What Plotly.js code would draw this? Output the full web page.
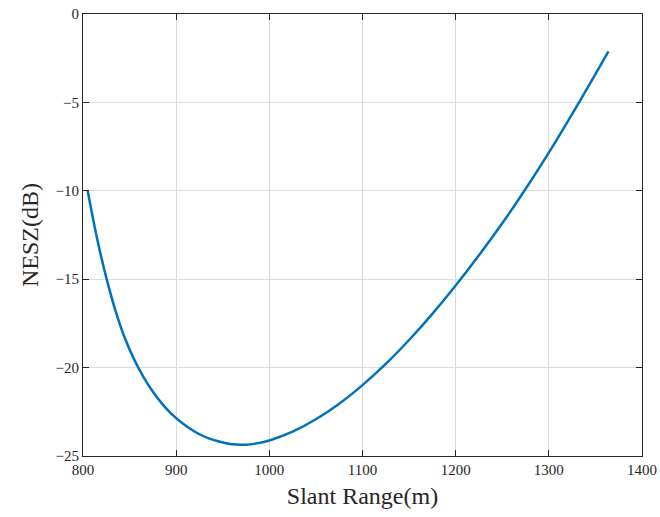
<!DOCTYPE html>
<html>
<head>
<meta charset="utf-8">
<script src="https://cdn.plot.ly/plotly-3.0.1.min.js"></script>
<style>html,body{margin:0;padding:0;background:#fff;}#chart{width:660px;height:517px;}</style>
</head>
<body>
<div id="chart"></div>
<script>
const slantRange = [805, 815, 825, 835, 845, 855, 865, 875, 885, 895, 905, 915, 925, 935, 945, 955, 965, 975, 985, 1000, 1025, 1050, 1075, 1100, 1125, 1150, 1175, 1200, 1225, 1250, 1275, 1300, 1325, 1350, 1364];
const nesz = [-10.0, -12.67, -14.91, -16.80, -18.34, -19.55, -20.54, -21.37, -22.05, -22.62, -23.08, -23.46, -23.77, -24.00, -24.17, -24.29, -24.35, -24.36, -24.30, -24.12, -23.62, -22.92, -22.04, -20.99, -19.79, -18.44, -16.96, -15.36, -13.65, -11.84, -9.90, -7.84, -5.66, -3.40, -2.12];
const xTicks = [800, 900, 1000, 1100, 1200, 1300, 1400];
const yTicks = [-25, -20, -15, -10, -5, 0];

const font = {family: '"Liberation Serif", "Times New Roman", serif', color: '#262626'};

Plotly.newPlot('chart', [{
  x: slantRange, y: nesz, type: 'scatter', mode: 'lines',
  line: {color: '#0072BD', width: 2.5, shape: 'spline', smoothing: 1}
}], {
  width: 660, height: 517,
  margin: {l: 82.5, r: 17.7, t: 14.3, b: 61},
  paper_bgcolor: '#fff', plot_bgcolor: '#fff',
  showlegend: false,
  font: Object.assign({size: 15}, font),
  xaxis: {
    range: [800, 1400], tickvals: xTicks, ticktext: xTicks.map(String),
    showgrid: true, gridcolor: '#dcdcdc', gridwidth: 1,
    zeroline: false, showline: true, linecolor: '#262626', linewidth: 1, mirror: 'ticks',
    ticks: 'inside', ticklen: 6, tickcolor: '#262626',
    tickfont: Object.assign({size: 15}, font),
    title: {text: 'Slant Range(m)', font: Object.assign({size: 24}, font), standoff: 10}
  },
  yaxis: {
    range: [-25, 0], tickvals: yTicks,
    showgrid: true, gridcolor: '#dcdcdc', gridwidth: 1,
    zeroline: false, showline: true, linecolor: '#262626', linewidth: 1, mirror: 'ticks',
    ticks: 'inside', ticklen: 6, tickcolor: '#262626',
    tickfont: Object.assign({size: 15}, font),
    title: {text: 'NESZ(dB)', font: Object.assign({size: 24}, font), standoff: 10}
  }
}, {displayModeBar: false, staticPlot: true});
</script>
</body>
</html>
